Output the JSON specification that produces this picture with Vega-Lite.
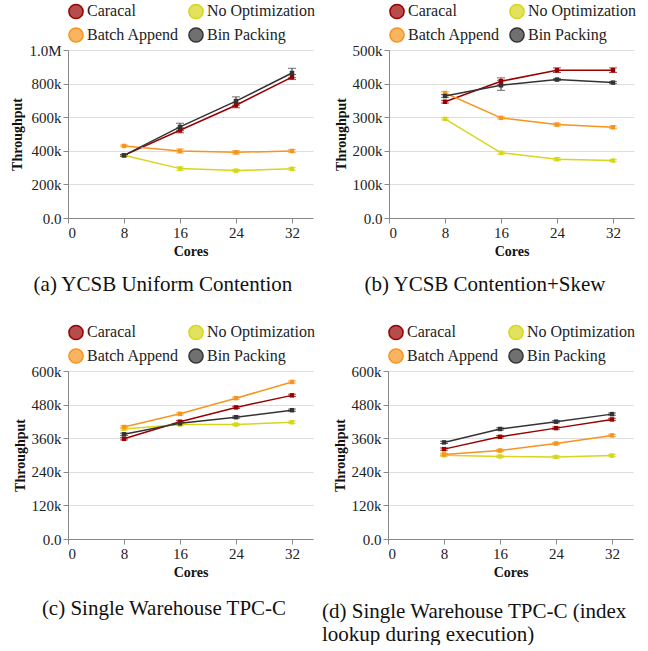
{
  "$schema": "https://vega.github.io/schema/vega-lite/v6.json",
  "padding": {"left": 10, "top": 3, "right": 0, "bottom": 0},
  "datasets": {
    "d": [
      {"p":"a","s":"Caracal","c":8,"v":373000,"lo":368000,"hi":378000},
      {"p":"a","s":"Caracal","c":16,"v":522000,"lo":507000,"hi":537000},
      {"p":"a","s":"Caracal","c":24,"v":671000,"lo":656000,"hi":686000},
      {"p":"a","s":"Caracal","c":32,"v":839000,"lo":824000,"hi":854000},
      {"p":"a","s":"No Optimization","c":8,"v":373000,"lo":369000,"hi":377000},
      {"p":"a","s":"No Optimization","c":16,"v":294000,"lo":284000,"hi":304000},
      {"p":"a","s":"No Optimization","c":24,"v":282000,"lo":275000,"hi":289000},
      {"p":"a","s":"No Optimization","c":32,"v":293000,"lo":286000,"hi":300000},
      {"p":"a","s":"Batch Append","c":8,"v":429000,"lo":424000,"hi":434000},
      {"p":"a","s":"Batch Append","c":16,"v":399000,"lo":387000,"hi":411000},
      {"p":"a","s":"Batch Append","c":24,"v":391000,"lo":381000,"hi":401000},
      {"p":"a","s":"Batch Append","c":32,"v":399000,"lo":391000,"hi":407000},
      {"p":"a","s":"Bin Packing","c":8,"v":373000,"lo":368000,"hi":378000},
      {"p":"a","s":"Bin Packing","c":16,"v":542000,"lo":520000,"hi":564000},
      {"p":"a","s":"Bin Packing","c":24,"v":696000,"lo":671000,"hi":721000},
      {"p":"a","s":"Bin Packing","c":32,"v":863000,"lo":835000,"hi":891000},
      {"p":"b","s":"Caracal","c":8,"v":346000,"lo":342000,"hi":350000},
      {"p":"b","s":"Caracal","c":16,"v":407000,"lo":397000,"hi":417000},
      {"p":"b","s":"Caracal","c":24,"v":440000,"lo":433000,"hi":447000},
      {"p":"b","s":"Caracal","c":32,"v":440000,"lo":433000,"hi":447000},
      {"p":"b","s":"No Optimization","c":8,"v":295000,"lo":292000,"hi":298000},
      {"p":"b","s":"No Optimization","c":16,"v":194000,"lo":190000,"hi":198000},
      {"p":"b","s":"No Optimization","c":24,"v":175000,"lo":171000,"hi":179000},
      {"p":"b","s":"No Optimization","c":32,"v":171000,"lo":168000,"hi":174000},
      {"p":"b","s":"Batch Append","c":8,"v":372000,"lo":368000,"hi":376000},
      {"p":"b","s":"Batch Append","c":16,"v":298000,"lo":295000,"hi":301000},
      {"p":"b","s":"Batch Append","c":24,"v":278000,"lo":274000,"hi":282000},
      {"p":"b","s":"Batch Append","c":32,"v":270000,"lo":266000,"hi":274000},
      {"p":"b","s":"Bin Packing","c":8,"v":363000,"lo":359000,"hi":367000},
      {"p":"b","s":"Bin Packing","c":16,"v":395000,"lo":380000,"hi":410000},
      {"p":"b","s":"Bin Packing","c":24,"v":412000,"lo":409000,"hi":415000},
      {"p":"b","s":"Bin Packing","c":32,"v":403000,"lo":400000,"hi":406000},
      {"p":"c","s":"Caracal","c":8,"v":358000,"lo":354000,"hi":362000},
      {"p":"c","s":"Caracal","c":16,"v":419000,"lo":415000,"hi":423000},
      {"p":"c","s":"Caracal","c":24,"v":470000,"lo":466000,"hi":474000},
      {"p":"c","s":"Caracal","c":32,"v":513000,"lo":509000,"hi":517000},
      {"p":"c","s":"No Optimization","c":8,"v":393000,"lo":389000,"hi":397000},
      {"p":"c","s":"No Optimization","c":16,"v":409000,"lo":405000,"hi":413000},
      {"p":"c","s":"No Optimization","c":24,"v":409000,"lo":405000,"hi":413000},
      {"p":"c","s":"No Optimization","c":32,"v":417000,"lo":413000,"hi":421000},
      {"p":"c","s":"Batch Append","c":8,"v":400000,"lo":396000,"hi":404000},
      {"p":"c","s":"Batch Append","c":16,"v":447000,"lo":443000,"hi":451000},
      {"p":"c","s":"Batch Append","c":24,"v":503000,"lo":499000,"hi":507000},
      {"p":"c","s":"Batch Append","c":32,"v":561000,"lo":557000,"hi":565000},
      {"p":"c","s":"Bin Packing","c":8,"v":374000,"lo":370000,"hi":378000},
      {"p":"c","s":"Bin Packing","c":16,"v":413000,"lo":409000,"hi":417000},
      {"p":"c","s":"Bin Packing","c":24,"v":435000,"lo":431000,"hi":439000},
      {"p":"c","s":"Bin Packing","c":32,"v":460000,"lo":456000,"hi":464000},
      {"p":"d","s":"Caracal","c":8,"v":321000,"lo":317000,"hi":325000},
      {"p":"d","s":"Caracal","c":16,"v":365000,"lo":361000,"hi":369000},
      {"p":"d","s":"Caracal","c":24,"v":396000,"lo":392000,"hi":400000},
      {"p":"d","s":"Caracal","c":32,"v":427000,"lo":423000,"hi":431000},
      {"p":"d","s":"No Optimization","c":8,"v":299000,"lo":295000,"hi":303000},
      {"p":"d","s":"No Optimization","c":16,"v":295000,"lo":291000,"hi":299000},
      {"p":"d","s":"No Optimization","c":24,"v":293000,"lo":289000,"hi":297000},
      {"p":"d","s":"No Optimization","c":32,"v":298000,"lo":294000,"hi":302000},
      {"p":"d","s":"Batch Append","c":8,"v":302000,"lo":298000,"hi":306000},
      {"p":"d","s":"Batch Append","c":16,"v":316000,"lo":312000,"hi":320000},
      {"p":"d","s":"Batch Append","c":24,"v":341000,"lo":337000,"hi":345000},
      {"p":"d","s":"Batch Append","c":32,"v":370000,"lo":366000,"hi":374000},
      {"p":"d","s":"Bin Packing","c":8,"v":345000,"lo":341000,"hi":349000},
      {"p":"d","s":"Bin Packing","c":16,"v":393000,"lo":389000,"hi":397000},
      {"p":"d","s":"Bin Packing","c":24,"v":419000,"lo":415000,"hi":423000},
      {"p":"d","s":"Bin Packing","c":32,"v":446000,"lo":442000,"hi":450000}
    ]
  },
  "config": {
    "font": "Liberation Serif",
    "view": {"stroke": null},
    "axis": {"labelFont": "Liberation Serif", "labelFontSize": 15, "labelColor": "#222", "labelOverlap": false, "titleFont": "Liberation Serif", "titleFontSize": 14, "titleFontWeight": "bold", "titleColor": "#111", "domainColor": "#888", "tickColor": "#888", "gridColor": "#ddd"},
    "legend": {"orient": "top", "columns": 2, "labelFont": "Liberation Serif", "labelFontSize": 16, "labelColor": "#222", "symbolType": "circle", "symbolSize": 200, "symbolStrokeWidth": 1.5, "rowPadding": 2, "columnPadding": 6, "labelOffset": 3, "offset": 4, "padding": 0, "title": null},
    "title": {"font": "Liberation Serif", "fontSize": 21, "fontWeight": "normal", "orient": "bottom", "anchor": "middle", "frame": "bounds", "color": "#111", "offset": 16}
  },
  "spacing": 29,
  "resolve": {"scale": {"color": "independent"}, "legend": {"color": "independent"}},
  "vconcat": [
    {"hconcat": [
      {"width": 245, "height": 168, "data": {"name": "d"}, "transform": [{"filter": "datum.p=='a'"}],
       "title": {"text": "(a) YCSB Uniform Contention"},
       "encoding": {
         "x": {"field": "c", "type": "quantitative", "scale": {"domain": [0, 35], "nice": false}, "axis": {"values": [0, 8, 16, 24, 32], "title": "Cores", "grid": false, "labelFont": "Liberation Serif"}},
         "color": {"field": "s", "type": "nominal", "scale": {"domain": ["Caracal", "No Optimization", "Batch Append", "Bin Packing"], "range": ["#990000", "#d6d61a", "#f7941d", "#333333"]}, "legend": {"labelFont": "Liberation Serif", "encode": {"symbols": {"update": {"fill": {"scale": "color", "field": "value"}, "fillOpacity": {"value": 0.7}, "stroke": {"scale": "color", "field": "value"}, "strokeWidth": {"value": 1.5}, "opacity": {"value": 1}}}}}}
       },
       "layer": [
         {"mark": {"type": "errorbar", "ticks": {"size": 8}}, "encoding": {"y": {"field": "lo", "type": "quantitative", "scale": {"domain": [0, 1000000], "nice": false}, "axis": {"values": [0, 200000, 400000, 600000, 800000, 1000000], "format": ".2s", "title": "Throughput", "labelFont": "Liberation Serif"}}, "y2": {"field": "hi"}}},
         {"mark": {"type": "line", "strokeWidth": 1.5}, "encoding": {"y": {"field": "v", "type": "quantitative", "axis": {"values": [0, 200000, 400000, 600000, 800000, 1000000], "format": ".2s", "title": "Throughput", "labelFont": "Liberation Serif"}}}},
         {"mark": {"type": "point", "filled": true, "shape": "square", "size": 20, "opacity": 1}, "encoding": {"y": {"field": "v", "type": "quantitative", "axis": {"values": [0, 200000, 400000, 600000, 800000, 1000000], "format": ".2s", "title": "Throughput", "labelFont": "Liberation Serif"}}}}
       ]},
      {"width": 245, "height": 168, "data": {"name": "d"}, "transform": [{"filter": "datum.p=='b'"}],
       "title": {"text": "(b) YCSB Contention+Skew"},
       "encoding": {
         "x": {"field": "c", "type": "quantitative", "scale": {"domain": [0, 35], "nice": false}, "axis": {"values": [0, 8, 16, 24, 32], "title": "Cores", "grid": false, "labelFont": "Liberation Serif"}},
         "color": {"field": "s", "type": "nominal", "scale": {"domain": ["Caracal", "No Optimization", "Batch Append", "Bin Packing"], "range": ["#990000", "#d6d61a", "#f7941d", "#333333"]}, "legend": {"labelFont": "Liberation Serif", "encode": {"symbols": {"update": {"fill": {"scale": "color", "field": "value"}, "fillOpacity": {"value": 0.7}, "stroke": {"scale": "color", "field": "value"}, "strokeWidth": {"value": 1.5}, "opacity": {"value": 1}}}}}}
       },
       "layer": [
         {"mark": {"type": "errorbar", "ticks": {"size": 8}}, "encoding": {"y": {"field": "lo", "type": "quantitative", "scale": {"domain": [0, 500000], "nice": false}, "axis": {"values": [0, 100000, 200000, 300000, 400000, 500000], "format": ".2s", "title": "Throughput", "labelFont": "Liberation Serif"}}, "y2": {"field": "hi"}}},
         {"mark": {"type": "line", "strokeWidth": 1.5}, "encoding": {"y": {"field": "v", "type": "quantitative", "axis": {"values": [0, 100000, 200000, 300000, 400000, 500000], "format": ".2s", "title": "Throughput", "labelFont": "Liberation Serif"}}}},
         {"mark": {"type": "point", "filled": true, "shape": "square", "size": 20, "opacity": 1}, "encoding": {"y": {"field": "v", "type": "quantitative", "axis": {"values": [0, 100000, 200000, 300000, 400000, 500000], "format": ".2s", "title": "Throughput", "labelFont": "Liberation Serif"}}}}
       ]}
    ], "spacing": 19, "resolve": {"scale": {"color": "independent"}, "legend": {"color": "independent"}}},
    {"hconcat": [
      {"width": 245, "height": 168, "data": {"name": "d"}, "transform": [{"filter": "datum.p=='c'"}],
       "title": {"text": "(c) Single Warehouse TPC-C", "dy": 3},
       "encoding": {
         "x": {"field": "c", "type": "quantitative", "scale": {"domain": [0, 35], "nice": false}, "axis": {"values": [0, 8, 16, 24, 32], "title": "Cores", "grid": false, "labelFont": "Liberation Serif"}},
         "color": {"field": "s", "type": "nominal", "scale": {"domain": ["Caracal", "No Optimization", "Batch Append", "Bin Packing"], "range": ["#990000", "#d6d61a", "#f7941d", "#333333"]}, "legend": {"labelFont": "Liberation Serif", "encode": {"symbols": {"update": {"fill": {"scale": "color", "field": "value"}, "fillOpacity": {"value": 0.7}, "stroke": {"scale": "color", "field": "value"}, "strokeWidth": {"value": 1.5}, "opacity": {"value": 1}}}}}}
       },
       "layer": [
         {"mark": {"type": "errorbar", "ticks": {"size": 8}}, "encoding": {"y": {"field": "lo", "type": "quantitative", "scale": {"domain": [0, 600000], "nice": false}, "axis": {"values": [0, 120000, 240000, 360000, 480000, 600000], "format": ".2s", "title": "Throughput", "labelFont": "Liberation Serif"}}, "y2": {"field": "hi"}}},
         {"mark": {"type": "line", "strokeWidth": 1.5}, "encoding": {"y": {"field": "v", "type": "quantitative", "axis": {"values": [0, 120000, 240000, 360000, 480000, 600000], "format": ".2s", "title": "Throughput", "labelFont": "Liberation Serif"}}}},
         {"mark": {"type": "point", "filled": true, "shape": "square", "size": 20, "opacity": 1}, "encoding": {"y": {"field": "v", "type": "quantitative", "axis": {"values": [0, 120000, 240000, 360000, 480000, 600000], "format": ".2s", "title": "Throughput", "labelFont": "Liberation Serif"}}}}
       ]},
      {"width": 245, "height": 168, "data": {"name": "d"}, "transform": [{"filter": "datum.p=='d'"}],
       "title": {"text": ["(d) Single Warehouse TPC-C (index", "lookup during execution)"], "anchor": "start", "align": "left", "dx": -11, "dy": 6},
       "encoding": {
         "x": {"field": "c", "type": "quantitative", "scale": {"domain": [0, 35], "nice": false}, "axis": {"values": [0, 8, 16, 24, 32], "title": "Cores", "grid": false, "labelFont": "Liberation Serif"}},
         "color": {"field": "s", "type": "nominal", "scale": {"domain": ["Caracal", "No Optimization", "Batch Append", "Bin Packing"], "range": ["#990000", "#d6d61a", "#f7941d", "#333333"]}, "legend": {"labelFont": "Liberation Serif", "encode": {"symbols": {"update": {"fill": {"scale": "color", "field": "value"}, "fillOpacity": {"value": 0.7}, "stroke": {"scale": "color", "field": "value"}, "strokeWidth": {"value": 1.5}, "opacity": {"value": 1}}}}}}
       },
       "layer": [
         {"mark": {"type": "errorbar", "ticks": {"size": 8}}, "encoding": {"y": {"field": "lo", "type": "quantitative", "scale": {"domain": [0, 600000], "nice": false}, "axis": {"values": [0, 120000, 240000, 360000, 480000, 600000], "format": ".2s", "title": "Throughput", "labelFont": "Liberation Serif"}}, "y2": {"field": "hi"}}},
         {"mark": {"type": "line", "strokeWidth": 1.5}, "encoding": {"y": {"field": "v", "type": "quantitative", "axis": {"values": [0, 120000, 240000, 360000, 480000, 600000], "format": ".2s", "title": "Throughput", "labelFont": "Liberation Serif"}}}},
         {"mark": {"type": "point", "filled": true, "shape": "square", "size": 20, "opacity": 1}, "encoding": {"y": {"field": "v", "type": "quantitative", "axis": {"values": [0, 120000, 240000, 360000, 480000, 600000], "format": ".2s", "title": "Throughput", "labelFont": "Liberation Serif"}}}}
       ]}
    ], "spacing": 7, "resolve": {"scale": {"color": "independent"}, "legend": {"color": "independent"}}}
  ]
}
